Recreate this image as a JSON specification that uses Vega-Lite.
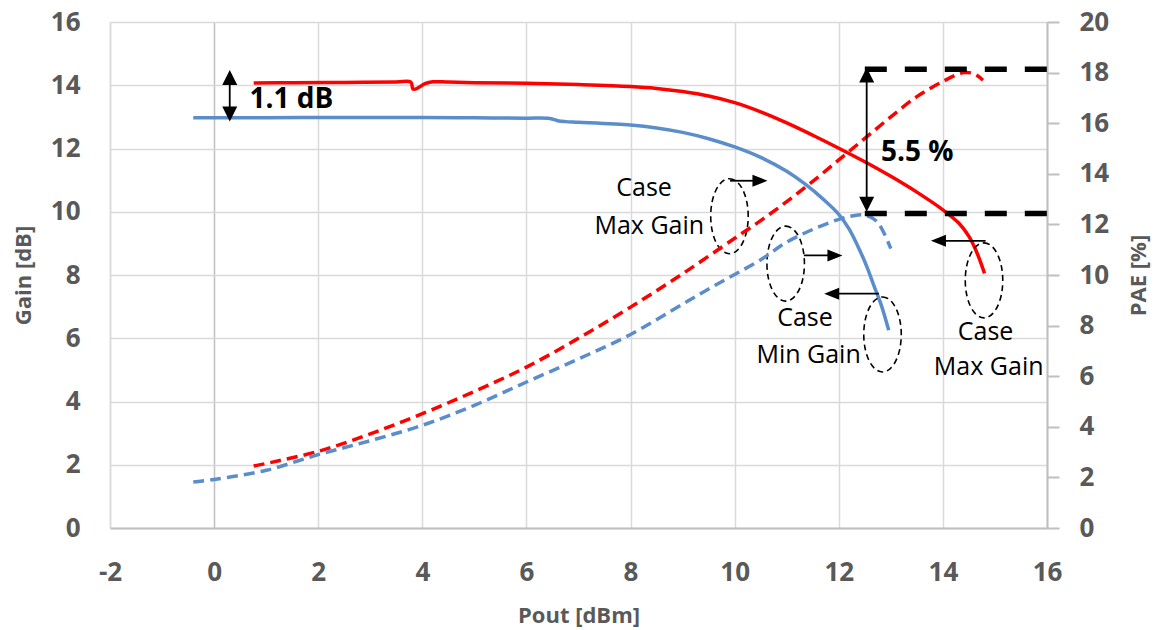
{
  "$schema": "https://vega.github.io/schema/vega-lite/v6.json",
  "width": 937,
  "height": 506,
  "autosize": {"type": "none"},
  "padding": {"left": 110, "top": 22, "right": 107, "bottom": 102},
  "background": "white",
  "config": {
    "view": {"stroke": null},
    "font": "Open Sans",
    "axis": {
      "labelFont": "Open Sans",
      "titleFont": "Open Sans",
      "labelFontSize": 26,
      "labelFontWeight": "bold",
      "labelColor": "#595959",
      "titleFontSize": 22,
      "titleFontWeight": "bold",
      "titleColor": "#595959",
      "labelExpr": "'' + datum.value"
    }
  },
  "datasets": {
    "gainCurves": [
      {"x": 0.76, "g": 14.07, "c": "max"},
      {"x": 1.5, "g": 14.08, "c": "max"},
      {"x": 2.5, "g": 14.09, "c": "max"},
      {"x": 3.5, "g": 14.1, "c": "max"},
      {"x": 3.78, "g": 14.1, "c": "max"},
      {"x": 3.82, "g": 13.88, "c": "max"},
      {"x": 3.9, "g": 13.9, "c": "max"},
      {"x": 4.05, "g": 14.05, "c": "max"},
      {"x": 4.2, "g": 14.11, "c": "max"},
      {"x": 4.5, "g": 14.1, "c": "max"},
      {"x": 5, "g": 14.08, "c": "max"},
      {"x": 6, "g": 14.06, "c": "max"},
      {"x": 7, "g": 14.02, "c": "max"},
      {"x": 8, "g": 13.96, "c": "max"},
      {"x": 8.5, "g": 13.9, "c": "max"},
      {"x": 9, "g": 13.8, "c": "max"},
      {"x": 9.5, "g": 13.66, "c": "max"},
      {"x": 10, "g": 13.45, "c": "max"},
      {"x": 10.5, "g": 13.16, "c": "max"},
      {"x": 11, "g": 12.81, "c": "max"},
      {"x": 11.5, "g": 12.42, "c": "max"},
      {"x": 12, "g": 12.01, "c": "max"},
      {"x": 12.5, "g": 11.58, "c": "max"},
      {"x": 13, "g": 11.12, "c": "max"},
      {"x": 13.5, "g": 10.62, "c": "max"},
      {"x": 14, "g": 10.06, "c": "max"},
      {"x": 14.3, "g": 9.65, "c": "max"},
      {"x": 14.5, "g": 9.22, "c": "max"},
      {"x": 14.65, "g": 8.72, "c": "max"},
      {"x": 14.8, "g": 8.05, "c": "max"},
      {"x": -0.4, "g": 12.97, "c": "min"},
      {"x": 1, "g": 12.97, "c": "min"},
      {"x": 2, "g": 12.98, "c": "min"},
      {"x": 3, "g": 12.98, "c": "min"},
      {"x": 4, "g": 12.98, "c": "min"},
      {"x": 5, "g": 12.97, "c": "min"},
      {"x": 6, "g": 12.96, "c": "min"},
      {"x": 6.45, "g": 12.95, "c": "min"},
      {"x": 6.6, "g": 12.88, "c": "min"},
      {"x": 6.75, "g": 12.85, "c": "min"},
      {"x": 7, "g": 12.83, "c": "min"},
      {"x": 8, "g": 12.74, "c": "min"},
      {"x": 8.5, "g": 12.65, "c": "min"},
      {"x": 9, "g": 12.51, "c": "min"},
      {"x": 9.5, "g": 12.31, "c": "min"},
      {"x": 10, "g": 12.05, "c": "min"},
      {"x": 10.5, "g": 11.72, "c": "min"},
      {"x": 11, "g": 11.28, "c": "min"},
      {"x": 11.35, "g": 10.88, "c": "min"},
      {"x": 11.7, "g": 10.4, "c": "min"},
      {"x": 12.0, "g": 9.92, "c": "min"},
      {"x": 12.2, "g": 9.45, "c": "min"},
      {"x": 12.42, "g": 8.72, "c": "min"},
      {"x": 12.55, "g": 8.22, "c": "min"},
      {"x": 12.68, "g": 7.64, "c": "min"},
      {"x": 12.81, "g": 7.08, "c": "min"},
      {"x": 12.96, "g": 6.25, "c": "min"}
    ],
    "paeCurves": [
      {"x": 0.76, "p": 2.45, "c": "max"},
      {"x": 1, "p": 2.55, "c": "max"},
      {"x": 2, "p": 3.03, "c": "max"},
      {"x": 3, "p": 3.72, "c": "max"},
      {"x": 4, "p": 4.52, "c": "max"},
      {"x": 5, "p": 5.4, "c": "max"},
      {"x": 6, "p": 6.36, "c": "max"},
      {"x": 7, "p": 7.5, "c": "max"},
      {"x": 8, "p": 8.73, "c": "max"},
      {"x": 9, "p": 10.05, "c": "max"},
      {"x": 10, "p": 11.45, "c": "max"},
      {"x": 10.5, "p": 12.15, "c": "max"},
      {"x": 11, "p": 12.9, "c": "max"},
      {"x": 11.5, "p": 13.7, "c": "max"},
      {"x": 12, "p": 14.55, "c": "max"},
      {"x": 12.5, "p": 15.4, "c": "max"},
      {"x": 13, "p": 16.25, "c": "max"},
      {"x": 13.5, "p": 17.05, "c": "max"},
      {"x": 14, "p": 17.65, "c": "max"},
      {"x": 14.4, "p": 18.0, "c": "max"},
      {"x": 14.6, "p": 17.95, "c": "max"},
      {"x": 14.77, "p": 17.7, "c": "max"},
      {"x": -0.4, "p": 1.82, "c": "min"},
      {"x": 0, "p": 1.92, "c": "min"},
      {"x": 1, "p": 2.28, "c": "min"},
      {"x": 2, "p": 2.9, "c": "min"},
      {"x": 3, "p": 3.45, "c": "min"},
      {"x": 4, "p": 4.06, "c": "min"},
      {"x": 5, "p": 4.85, "c": "min"},
      {"x": 6, "p": 5.77, "c": "min"},
      {"x": 7, "p": 6.68, "c": "min"},
      {"x": 8, "p": 7.65, "c": "min"},
      {"x": 9, "p": 8.85, "c": "min"},
      {"x": 9.5, "p": 9.45, "c": "min"},
      {"x": 10, "p": 10.02, "c": "min"},
      {"x": 10.5, "p": 10.6, "c": "min"},
      {"x": 11, "p": 11.3, "c": "min"},
      {"x": 11.5, "p": 11.8, "c": "min"},
      {"x": 12, "p": 12.2, "c": "min"},
      {"x": 12.25, "p": 12.33, "c": "min"},
      {"x": 12.45, "p": 12.38, "c": "min"},
      {"x": 12.6, "p": 12.3, "c": "min"},
      {"x": 12.74, "p": 12.1, "c": "min"},
      {"x": 12.87, "p": 11.65, "c": "min"},
      {"x": 13.0, "p": 11.04, "c": "min"}
    ],
    "gainRules": [
      {"x": 0.3, "x2": 0.3, "g": 14.2, "g2": 13.15},
      {"x": 9.91, "x2": 10.5, "g": 10.98, "g2": 10.98},
      {"x": 11.33, "x2": 11.95, "g": 8.62, "g2": 8.62},
      {"x": 12.77, "x2": 11.85, "g": 7.41, "g2": 7.41},
      {"x": 14.82, "x2": 13.9, "g": 9.08, "g2": 9.08}
    ],
    "gainHeads": [
      {"x": 0.3, "g": 14.48, "d": "up"},
      {"x": 0.3, "g": 12.85, "d": "down"},
      {"x": 10.63, "g": 10.98, "d": "right"},
      {"x": 12.07, "g": 8.62, "d": "right"},
      {"x": 11.72, "g": 7.41, "d": "left"},
      {"x": 13.77, "g": 9.08, "d": "left"}
    ],
    "ellipses": [
      {"x": 9.9, "g": 9.86},
      {"x": 10.98, "g": 8.36},
      {"x": 12.84, "g": 6.12},
      {"x": 14.79, "g": 7.83}
    ],
    "boldGainText": [
      {"x": 0.68, "g": 13.52, "t": "1.1 dB"}
    ],
    "caseText": [
      {"x": 8.26, "g": 10.74, "t": "Case"},
      {"x": 8.36, "g": 9.56, "t": "Max Gain"},
      {"x": 11.35, "g": 6.63, "t": "Case"},
      {"x": 11.42, "g": 5.46, "t": "Min Gain"},
      {"x": 14.82, "g": 6.2, "t": "Case"},
      {"x": 14.88, "g": 5.09, "t": "Max Gain"}
    ],
    "paeDashes": [
      {"x": 12.5, "x2": 16, "p": 18.13, "p2": 18.13},
      {"x": 12.5, "x2": 16, "p": 12.43, "p2": 12.43}
    ],
    "paeArrow": [
      {"x": 12.536, "x2": 12.536, "p": 17.7, "p2": 13.0}
    ],
    "paeHeads": [
      {"x": 12.536, "p": 18.2, "d": "up"},
      {"x": 12.536, "p": 12.5, "d": "down"}
    ],
    "paeText": [
      {"x": 12.81, "p": 14.81, "t": "5.5 %"}
    ]
  },
  "encoding": {
    "x": {
      "field": "x",
      "type": "quantitative",
      "title": "Pout [dBm]",
      "scale": {"domain": [-2, 16], "nice": false, "zero": false},
      "axis": {
        "values": [-2, 0, 2, 4, 6, 8, 10, 12, 14, 16],
        "grid": true,
        "gridColor": {"condition": {"test": "datum.value === 0", "value": "#bfbfbf"}, "value": "#d9d9d9"},
        "gridWidth": 1.5,
        "domainColor": "#bfbfbf",
        "domainWidth": 2,
        "ticks": false,
        "tickSize": 0,
        "labelPadding": 31,
        "labelFlush": false,
        "titlePadding": 20
      }
    }
  },
  "layer": [
    {
      "encoding": {
        "y": {
          "field": "g",
          "type": "quantitative",
          "title": "Gain [dB]",
          "scale": {"domain": [0, 16], "nice": false, "zero": false},
          "axis": {
            "orient": "left",
            "values": [0, 2, 4, 6, 8, 10, 12, 14, 16],
            "grid": true,
            "gridColor": "#d9d9d9",
            "gridWidth": 1.5,
            "domainColor": "#d9d9d9",
            "domainWidth": 1.5,
            "ticks": false,
            "tickSize": 0,
            "labelPadding": 30,
            "titlePadding": 15
          }
        }
      },
      "layer": [
        {
          "data": {"name": "gainCurves"},
          "mark": {"type": "line", "strokeWidth": 3.5, "interpolate": "catmull-rom"},
          "encoding": {
            "color": {"field": "c", "type": "nominal", "scale": {"domain": ["max", "min"], "range": ["#FF0000", "#5B8DCB"]}, "legend": null}
          }
        },
        {
          "data": {"name": "gainRules"},
          "mark": {"type": "rule", "color": "black", "strokeWidth": 1.8},
          "encoding": {
            "x2": {"field": "x2"},
            "y2": {"field": "g2"}
          }
        },
        {
          "data": {"name": "gainHeads"},
          "mark": {"type": "point", "filled": true, "color": "black", "opacity": 1, "size": 225, "strokeWidth": 0},
          "encoding": {
            "shape": {"field": "d", "type": "nominal", "legend": null, "scale": {"domain": ["up", "down", "left", "right"], "range": ["M0,0L-1,2L1,2Z", "M0,0L-1,-2L1,-2Z", "M0,0L2,-0.8L2,0.8Z", "M0,0L-2,-0.8L-2,0.8Z"]}}
          }
        },
        {
          "data": {"name": "ellipses"},
          "mark": {"type": "point", "shape": "M0,-1A0.5,1,0,1,1,0,1A0.5,1,0,1,1,0,-1Z", "size": 5625, "filled": false, "stroke": "black", "strokeWidth": 1.6, "strokeDash": [6, 4], "opacity": 1},
          "encoding": {}
        },
        {
          "data": {"name": "boldGainText"},
          "mark": {"type": "text", "font": "Open Sans", "fontSize": 28, "fontWeight": "bold", "color": "black", "align": "left", "baseline": "middle"},
          "encoding": {"text": {"field": "t"}}
        },
        {
          "data": {"name": "caseText"},
          "mark": {"type": "text", "font": "Open Sans", "fontSize": 25, "color": "black", "align": "center", "baseline": "middle"},
          "encoding": {"text": {"field": "t"}}
        }
      ]
    },
    {
      "encoding": {
        "y": {
          "field": "p",
          "type": "quantitative",
          "title": "PAE [%]",
          "scale": {"domain": [0, 20], "nice": false, "zero": false},
          "axis": {
            "orient": "right",
            "values": [0, 2, 4, 6, 8, 10, 12, 14, 16, 18, 20],
            "grid": false,
            "domainColor": "#bfbfbf",
            "domainWidth": 2,
            "ticks": true,
            "tickColor": "#bfbfbf",
            "tickWidth": 2,
            "tickSize": 12,
            "labelPadding": 20,
            "titleAngle": 270,
            "titleBaseline": "bottom",
            "titlePadding": 42
          }
        }
      },
      "layer": [
        {
          "data": {"name": "paeCurves"},
          "mark": {"type": "line", "strokeWidth": 3.5, "strokeDash": [11, 6], "interpolate": "catmull-rom"},
          "encoding": {
            "color": {"field": "c", "type": "nominal", "scale": {"domain": ["max", "min"], "range": ["#FF0000", "#5B8DCB"]}, "legend": null}
          }
        },
        {
          "data": {"name": "paeDashes"},
          "mark": {"type": "rule", "color": "black", "strokeWidth": 5.5, "strokeDash": [22, 18], "strokeCap": "butt"},
          "encoding": {
            "x2": {"field": "x2"},
            "y2": {"field": "p2"}
          }
        },
        {
          "data": {"name": "paeArrow"},
          "mark": {"type": "rule", "color": "black", "strokeWidth": 1.8},
          "encoding": {
            "x2": {"field": "x2"},
            "y2": {"field": "p2"}
          }
        },
        {
          "data": {"name": "paeHeads"},
          "mark": {"type": "point", "filled": true, "color": "black", "opacity": 1, "size": 225, "strokeWidth": 0},
          "encoding": {
            "shape": {"field": "d", "type": "nominal", "legend": null, "scale": {"domain": ["up", "down"], "range": ["M0,0L-1,2L1,2Z", "M0,0L-1,-2L1,-2Z"]}}
          }
        },
        {
          "data": {"name": "paeText"},
          "mark": {"type": "text", "font": "Open Sans", "fontSize": 28, "fontWeight": "bold", "color": "black", "align": "left", "baseline": "middle"},
          "encoding": {"text": {"field": "t"}}
        }
      ]
    }
  ],
  "resolve": {"scale": {"y": "independent"}}
}
